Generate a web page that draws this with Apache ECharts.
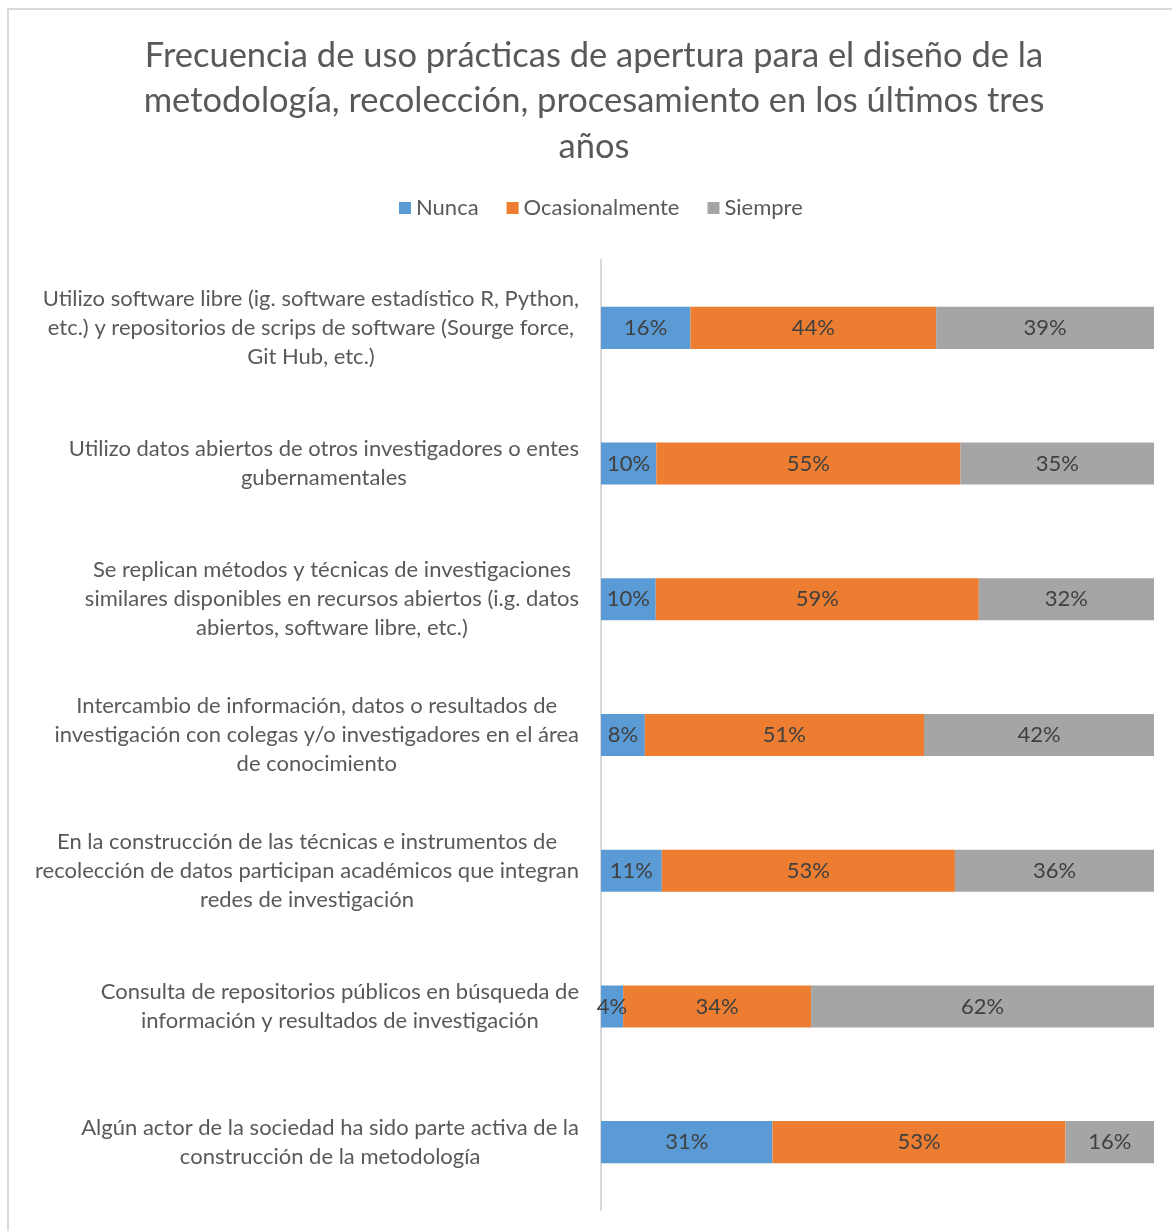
<!DOCTYPE html>
<html>
<head>
<meta charset="utf-8">
<script src="https://cdn.jsdelivr.net/npm/echarts@6/dist/echarts.min.js"></script>
<style>
  html, body { margin: 0; padding: 0; background: #ffffff; }
  #frame { position: absolute; left: 7px; top: 8px; width: 1200px; height: 1300px;
           border: 2px solid #d9d9d9; box-sizing: border-box; }
  #chart { position: absolute; left: 0; top: 0; width: 1172px; height: 1231px; }
  body { width: 1172px; height: 1231px; overflow: hidden; position: relative; }
</style>
</head>
<body>
<div id="frame"></div>
<div id="chart"></div>
<script>
// Survey items (top to bottom)
const categories = [
  'Utilizo software libre (ig. software estadístico R, Python,\netc.) y repositorios de scrips de software (Sourge force,\nGit Hub, etc.)',
  'Utilizo datos abiertos de otros investigadores o entes\ngubernamentales',
  'Se replican métodos y técnicas de investigaciones\nsimilares disponibles en recursos abiertos (i.g. datos\nabiertos, software libre, etc.)',
  'Intercambio de información, datos o resultados de\ninvestigación con colegas y/o investigadores en el área\nde conocimiento',
  'En la construcción de las técnicas e instrumentos de\nrecolección de datos participan académicos que integran\nredes de investigación',
  'Consulta de repositorios públicos en búsqueda de\ninformación y resultados de investigación',
  'Algún actor de la sociedad ha sido parte activa de la\nconstrucción de la metodología'
];

// Percentages per answer
const nunca          = [16, 10, 10, 8, 11, 4, 31];
const ocasionalmente = [44, 55, 59, 51, 53, 34, 53];
const siempre        = [39, 35, 32, 42, 36, 62, 16];

const seriesNames = ['Nunca', 'Ocasionalmente', 'Siempre'];
const seriesColors = ['#5B9BD5', '#ED7D31', '#A5A5A5'];

const FONT = 'Lato, "Liberation Sans", sans-serif';

// 100% stacked: each segment's length is its share of the row total
const rowTotals = categories.map((_, i) => nunca[i] + ocasionalmente[i] + siempre[i]);
function toShares(values) {
  return values.map((v, i) => ({ value: v / rowTotals[i] * 100, pct: v }));
}

const chart = echarts.init(document.getElementById('chart'), null, { renderer: 'canvas' });

const series = [nunca, ocasionalmente, siempre].map((vals, k) => ({
  name: seriesNames[k],
  type: 'bar',
  stack: 'total',
  barWidth: '31%',
  itemStyle: { color: seriesColors[k] },
  label: {
    show: true,
    position: 'inside',
    color: '#404040',
    fontFamily: FONT,
    fontSize: 22,
    formatter: p => p.data.pct + '%'
  },
  emphasis: { disabled: true },
  data: toShares(vals)
}));

chart.setOption({
  backgroundColor: 'transparent',
  animation: false,
  title: {
    text: 'Frecuencia de uso prácticas de apertura para el diseño de la\nmetodología, recolección, procesamiento en los últimos tres\naños',
    left: 589,
    textAlign: 'center',
    top: 28,
    textStyle: {
      fontFamily: FONT,
      fontSize: 34.5,
      fontWeight: 'normal',
      color: '#595959',
      lineHeight: 45.5
    }
  },
  legend: {
    top: 192,
    left: 394,
    itemWidth: 12,
    itemHeight: 12,
    itemGap: 28,
    icon: 'rect',
    textStyle: { fontFamily: FONT, fontSize: 22, color: '#595959' },
    data: seriesNames
  },
  grid: { left: 601, right: 18, top: 260, bottom: 21, containLabel: false },
  xAxis: {
    type: 'value',
    min: 0,
    max: 100,
    show: false
  },
  yAxis: {
    type: 'category',
    inverse: true,
    data: categories,
    axisLine: { show: true, lineStyle: { color: '#d9d9d9', width: 2 } },
    axisTick: { show: false },
    splitLine: { show: false },
    axisLabel: {
      margin: 22,
      align: 'right',
      formatter: v => v.split('\n').map(l => '{c|' + l + '}').join('\n'),
      rich: {
        c: {
          align: 'center',
          fontFamily: FONT,
          fontSize: 22,
          color: '#595959',
          lineHeight: 29
        }
      }
    }
  },
  series: series
});
</script>
</body>
</html>
